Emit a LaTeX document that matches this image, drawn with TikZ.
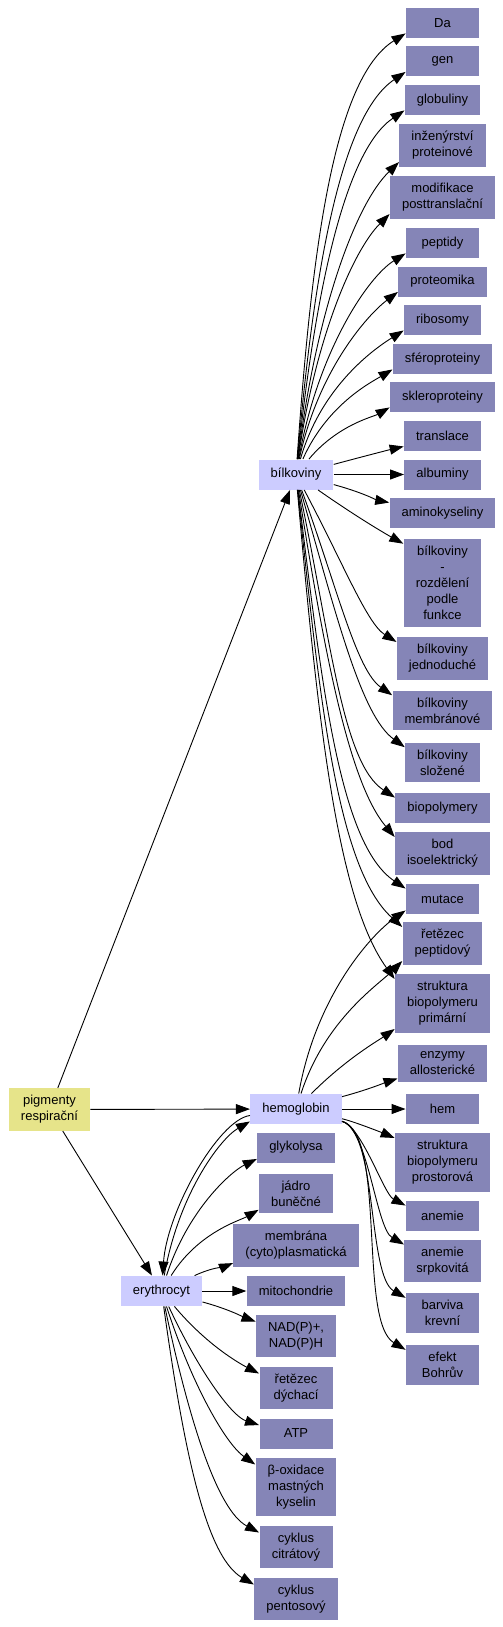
\documentclass[tikz,border=0pt]{standalone}
\usepackage{fontspec}
\setmainfont{Liberation Sans}
\usepackage{tikz}
\usetikzlibrary{arrows.meta}

\definecolor{rootfill}{RGB}{230,228,138}
\definecolor{hubfill}{RGB}{204,204,255}
\definecolor{leaffill}{RGB}{133,133,183}

\begin{document}
\begin{tikzpicture}[x=1pt, y=1pt, >={Triangle[length=14pt, width=10pt]}, line width=0.9pt,
    box/.style={rectangle, align=center, inner xsep=12pt, inner ysep=7pt,
      minimum width=73pt, minimum height=30pt, font=\fontsize{13pt}{16pt}\selectfont},
    rootbox/.style={box, fill=rootfill},
    hubbox/.style={box, fill=hubfill},
    leafbox/.style={box, fill=leaffill},
    link/.style={->, out looseness=1.2, in looseness=0.5}]
  \useasboundingbox (0,0) rectangle (503,-1627);

  % Root and hub terms
  \node[rootbox] (pig) at (49.5,-1109.5) {pigmenty\\respirační};
  \node[hubbox] (bil) at (296,-474.5) {bílkoviny};
  \node[hubbox] (hemo) at (296,-1109) {hemoglobin};
  \node[hubbox] (ery) at (161.5,-1291) {erythrocyt};

  % Right column of terms
  \foreach \name/\y/\txt in {da/23/Da, gen/61.5/gen, glob/100/globuliny,
      inz/145.5/{inženýrství\\proteinové}, mod/197.5/{modifikace\\posttranslační},
      pep/243/peptidy, prot/281.5/proteomika, rib/320/ribosomy,
      sfer/359/sféroproteiny, skl/397/skleroproteiny, tran/436/translace,
      alb/474.5/albuminy, amino/513/aminokyseliny,
      rozd/583/{bílkoviny\\-\\rozdělení\\podle\\funkce},
      jedn/658.5/{bílkoviny\\jednoduché}, memb/710.5/{bílkoviny\\membránové},
      sloz/762.5/{bílkoviny\\složené}, biopol/808/biopolymery,
      bod/853.5/{bod\\isoelektrický}, mut/899/mutace,
      ret/943.5/{řetězec\\peptidový}, prim/1003.5/{struktura\\biopolymeru\\primární},
      enz/1063.5/{enzymy\\allosterické}, hem/1109/hem,
      pros/1162.5/{struktura\\biopolymeru\\prostorová}, anem/1216/anemie,
      srp/1261/{anemie\\srpkovitá}, barv/1313/{barviva\\krevní},
      bohr/1365/{efekt\\Bohrův}}
    \node[leafbox] (\name) at (442.5,-\y) {\txt};

  % Middle column of terms
  \foreach \name/\y/\txt in {glyk/1147.5/glykolysa, jadro/1193.5/{jádro\\buněčné},
      membr/1245.5/{membrána\\(cyto)plasmatická}, mito/1291/mitochondrie,
      nad/1336/{NAD(P)+,\\NAD(P)H}, dych/1388/{řetězec\\dýchací},
      atp/1433.5/ATP, beta/1487/{β-oxidace\\mastných\\kyselin},
      citr/1547/{cyklus\\citrátový}, pent/1599/{cyklus\\pentosový}}
    \node[leafbox] (\name) at (296,-\y) {\txt};

  % From the root
  \draw[->] (pig) -- (bil);
  \draw[->] (pig) -- (hemo);
  \draw[->] (pig) -- (ery);

  % bílkoviny
  \foreach \name/\outang/\inang in {da/86/212, gen/85/214, glob/84/214, inz/83/224,
      mod/82/225, pep/80/212, prot/78/217, rib/74/212, sfer/66/211, skl/50/210, tran/15/193}
    \draw[link] (bil) to[out=\outang, in=\inang] ([yshift=5pt]\name.south west);
  \draw[->] (bil) -- (alb);
  \foreach \name/\outang/\inang in {amino/-15/169, rozd/-35/151, jedn/-62/148, memb/-70/145,
      sloz/-74/144, biopol/-78/147, bod/-81/130, mut/-83/146, ret/-84/138, prim/-85/126}
    \draw[link] (bil) to[out=\outang, in=\inang] ([yshift=-5pt]\name.north west);

  % hemoglobin
  \foreach \name/\outang/\inang in {mut/80/215, ret/72/225, prim/45/215, enz/15/198}
    \draw[link] (hemo) to[out=\outang, in=\inang] ([yshift=4pt]\name.south west);
  \draw[->] (hemo) -- (hem);
  \foreach \name/\outang/\inang in {pros/-12/157, anem/-15/152, srp/-15/150, barv/-15/150, bohr/-15/149}
    \draw[->] (hemo) to[out=\outang, in=\inang, out looseness=0.5, in looseness=0.6]
      ([yshift=-5pt]\name.north west);
  \draw[->] (hemo) to[out=188, in=86, out looseness=0.45, in looseness=0.9] (ery);

  % erythrocyt
  \draw[link] (ery) to[out=80, in=210] ([yshift=3pt]hemo.south west);
  \foreach \name/\outang/\inang in {glyk/72/206, jadro/58/210, membr/25/203}
    \draw[link] (ery) to[out=\outang, in=\inang] ([yshift=4pt]\name.south west);
  \draw[->] (ery) -- (mito);
  \foreach \name/\outang/\inang in {nad/-15/160, dych/-50/153, atp/-65/162, beta/-72/145,
      citr/-78/152, pent/-82/150}
    \draw[link] (ery) to[out=\outang, in=\inang] ([yshift=-7pt]\name.north west);
\end{tikzpicture}
\end{document}
